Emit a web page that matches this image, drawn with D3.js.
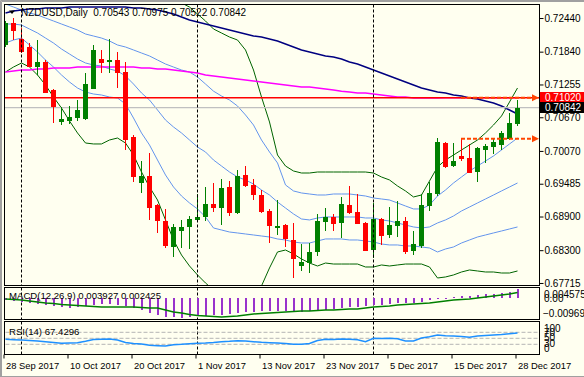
<!DOCTYPE html>
<html>
<head>
<meta charset="utf-8">
<script src="https://cdn.jsdelivr.net/npm/d3@7"></script>
<style>
  html, body { margin: 0; padding: 0; background: #fffff0; }
  svg { display: block; }
  text { font-family: "Liberation Sans", Arial, sans-serif; }
</style>
</head>
<body>
<svg id="chart" width="584" height="377"></svg>
<script>
// NZDUSD daily bars, 28 Sep - 28 Dec 2017
const dates = [
  '2017-09-28','2017-09-29',
  '2017-10-02','2017-10-03','2017-10-04','2017-10-05','2017-10-06',
  '2017-10-09','2017-10-10','2017-10-11','2017-10-12','2017-10-13',
  '2017-10-16','2017-10-17','2017-10-18','2017-10-19','2017-10-20',
  '2017-10-23','2017-10-24','2017-10-25','2017-10-26','2017-10-27',
  '2017-10-30','2017-10-31',
  '2017-11-01','2017-11-02','2017-11-03',
  '2017-11-06','2017-11-07','2017-11-08','2017-11-09','2017-11-10',
  '2017-11-13','2017-11-14','2017-11-15','2017-11-16','2017-11-17',
  '2017-11-20','2017-11-21','2017-11-22','2017-11-23','2017-11-24',
  '2017-11-27','2017-11-28','2017-11-29','2017-11-30',
  '2017-12-01',
  '2017-12-04','2017-12-05','2017-12-06','2017-12-07','2017-12-08',
  '2017-12-11','2017-12-12','2017-12-13','2017-12-14','2017-12-15',
  '2017-12-18','2017-12-19','2017-12-20','2017-12-21','2017-12-22',
  '2017-12-26','2017-12-27','2017-12-28'
];

const opens = [
  0.71959, 0.72351, 0.72066, 0.71923, 0.71566, 0.71656, 0.71156, 0.70586, 0.70604, 0.70657,
  0.70639, 0.71174, 0.71709, 0.71656, 0.71691, 0.71477, 0.70318, 0.69498, 0.69623, 0.69106,
  0.68821, 0.68357, 0.68642, 0.68714, 0.68839, 0.68892, 0.69124, 0.69052, 0.69427, 0.68964,
  0.69641, 0.69463, 0.69284, 0.68999, 0.68722, 0.68749, 0.68482, 0.68018, 0.68071, 0.68268,
  0.68803, 0.68892, 0.68785, 0.69106, 0.68981, 0.68785, 0.68303, 0.68856, 0.68571, 0.68731,
  0.68821, 0.68286, 0.68375, 0.69088, 0.69302, 0.70211, 0.69801, 0.69980, 0.69944, 0.69694,
  0.70087, 0.70140, 0.70176, 0.70283, 0.70543
];
const highs = [
  0.72387, 0.72440, 0.72262, 0.71994, 0.72048, 0.71691, 0.71174, 0.70853, 0.70871, 0.70978,
  0.71459, 0.71959, 0.71870, 0.72066, 0.71834, 0.71656, 0.70354, 0.69890, 0.70033, 0.69124,
  0.69035, 0.68767, 0.68839, 0.68910, 0.69302, 0.69427, 0.69498, 0.69569, 0.69534, 0.69730,
  0.69801, 0.69569, 0.69373, 0.69035, 0.69195, 0.68767, 0.68785, 0.68410, 0.68428, 0.68946,
  0.69052, 0.68946, 0.69249, 0.69445, 0.69302, 0.68803, 0.69142, 0.68865, 0.69070, 0.69177,
  0.68892, 0.68642, 0.69302, 0.69516, 0.70300, 0.70229, 0.70211, 0.70300, 0.70194, 0.70140,
  0.70194, 0.70300, 0.70425, 0.70746, 0.70975
];
const lows = [
  0.71923, 0.72048, 0.71816, 0.71560, 0.71424, 0.71103, 0.70568, 0.70532, 0.70550, 0.70604,
  0.70630, 0.71174, 0.71459, 0.71459, 0.71192, 0.70087, 0.69516, 0.69320, 0.68839, 0.68607,
  0.68339, 0.68178, 0.68339, 0.68321, 0.68803, 0.68821, 0.68981, 0.68749, 0.68910, 0.68946,
  0.69430, 0.69195, 0.68970, 0.68428, 0.68571, 0.68357, 0.67804, 0.67929, 0.67893, 0.68196,
  0.68642, 0.68642, 0.68517, 0.68946, 0.68760, 0.68280, 0.68161, 0.68393, 0.68517, 0.68535,
  0.68232, 0.68214, 0.68339, 0.68999, 0.69266, 0.69766, 0.69784, 0.69890, 0.69670, 0.69516,
  0.69855, 0.70015, 0.70087, 0.70265, 0.70522
];
const closes = [
  0.72351, 0.72208, 0.71834, 0.71566, 0.71656, 0.71103, 0.70853, 0.70639, 0.70675, 0.70800,
  0.71263, 0.71870, 0.71638, 0.71691, 0.71459, 0.70265, 0.69605, 0.69623, 0.69052, 0.68821,
  0.68375, 0.68714, 0.68714, 0.68856, 0.68892, 0.69124, 0.69052, 0.69409, 0.68964, 0.69623,
  0.69445, 0.69284, 0.68981, 0.68731, 0.68731, 0.68500, 0.68143, 0.68089, 0.68268, 0.68821,
  0.68892, 0.68767, 0.69124, 0.68964, 0.68767, 0.68286, 0.68856, 0.68553, 0.68749, 0.68821,
  0.68268, 0.68410, 0.69106, 0.69320, 0.70229, 0.69784, 0.69890, 0.69926, 0.69676, 0.70122,
  0.70158, 0.70229, 0.70390, 0.70568, 0.70842
];

// overlays on the price panel
const maSlow = [
  0.72529, 0.72565, 0.72583, 0.72601, 0.72601, 0.72618, 0.72618, 0.72618, 0.72636, 0.72636,
  0.72636, 0.72636, 0.72636, 0.72636, 0.72636, 0.72636, 0.72618, 0.72618, 0.72601, 0.72583,
  0.72547, 0.72511, 0.72458, 0.72405, 0.72369, 0.72333, 0.72297, 0.72262, 0.72226, 0.72190,
  0.72155, 0.72119, 0.72101, 0.72066, 0.72030, 0.71976, 0.71923, 0.71870, 0.71834, 0.71798,
  0.71763, 0.71745, 0.71709, 0.71656, 0.71620, 0.71566, 0.71513, 0.71459, 0.71406, 0.71352,
  0.71299, 0.71245, 0.71192, 0.71156, 0.71121, 0.71103, 0.71067, 0.71049, 0.71014, 0.70996,
  0.70960, 0.70925, 0.70871, 0.70800, 0.70728
];
const maLong = [
  0.71477, 0.71495, 0.71513, 0.71513, 0.71531, 0.71531, 0.71549, 0.71549, 0.71549, 0.71566,
  0.71566, 0.71566, 0.71566, 0.71566, 0.71566, 0.71566, 0.71566, 0.71549, 0.71549, 0.71531,
  0.71531, 0.71513, 0.71495, 0.71477, 0.71459, 0.71424, 0.71406, 0.71388, 0.71370, 0.71352,
  0.71335, 0.71317, 0.71299, 0.71281, 0.71263, 0.71245, 0.71228, 0.71210, 0.71210, 0.71192,
  0.71174, 0.71156, 0.71136, 0.71121, 0.71103, 0.71103, 0.71085, 0.71067, 0.71049, 0.71031,
  0.71031, 0.71014, 0.71014, 0.71014, 0.71014, 0.71020, 0.71020, 0.71020, 0.71020, 0.71020,
  0.71020, 0.71020, 0.71020, 0.71020, 0.71020
];
const bbUpper = [
  0.72690, 0.72636, 0.72583, 0.72529, 0.72494, 0.72440, 0.72387, 0.72333, 0.72280, 0.72226,
  0.72155, 0.72119, 0.72083, 0.72030, 0.71959, 0.71923, 0.71870, 0.71816, 0.71763, 0.71691,
  0.71620, 0.71566, 0.71513, 0.71477, 0.71388, 0.71263, 0.71136, 0.71049, 0.70978, 0.70871,
  0.70711, 0.70532, 0.70265, 0.70051, 0.69855, 0.69463, 0.69356, 0.69320, 0.69302, 0.69284,
  0.69284, 0.69302, 0.69302, 0.69302, 0.69284, 0.69266, 0.69231, 0.69213, 0.69195, 0.69142,
  0.69088, 0.69035, 0.69035, 0.69106, 0.69266, 0.69373, 0.69498, 0.69605, 0.69712, 0.69801,
  0.69890, 0.69980, 0.70087, 0.70194, 0.70300
];
const bbMid = [
  0.72333, 0.72333, 0.72315, 0.72244, 0.72173, 0.72083, 0.71994, 0.71887, 0.71798, 0.71709,
  0.71638, 0.71602, 0.71585, 0.71531, 0.71495, 0.71406, 0.71263, 0.71103, 0.70978, 0.70800,
  0.70621, 0.70497, 0.70390, 0.70265, 0.70140, 0.70051, 0.69908, 0.69801, 0.69694, 0.69605,
  0.69552, 0.69480, 0.69373, 0.69284, 0.69159, 0.69052, 0.68946, 0.68856, 0.68839, 0.68874,
  0.68892, 0.68892, 0.68892, 0.68892, 0.68892, 0.68874, 0.68874, 0.68839, 0.68821, 0.68785,
  0.68749, 0.68714, 0.68696, 0.68714, 0.68785, 0.68839, 0.68910, 0.68999, 0.69070, 0.69142,
  0.69213, 0.69284, 0.69356, 0.69427, 0.69498
];
const bbLower = [
  0.71994, 0.72048, 0.72083, 0.71959, 0.71834, 0.71691, 0.71566, 0.71424, 0.71299, 0.71192,
  0.71121, 0.71085, 0.71067, 0.71031, 0.71014, 0.70907, 0.70657, 0.70390, 0.70176, 0.69908,
  0.69641, 0.69427, 0.69266, 0.69142, 0.69035, 0.68892, 0.68696, 0.68660, 0.68624, 0.68607,
  0.68589, 0.68571, 0.68553, 0.68535, 0.68500, 0.68482, 0.68446, 0.68428, 0.68428, 0.68464,
  0.68500, 0.68500, 0.68500, 0.68482, 0.68482, 0.68464, 0.68446, 0.68410, 0.68393, 0.68393,
  0.68375, 0.68375, 0.68357, 0.68339, 0.68268, 0.68321, 0.68357, 0.68428, 0.68482, 0.68535,
  0.68571, 0.68607, 0.68642, 0.68678, 0.68714
];
const bbOuterUpper = [
  null, null, null, null, null, null, null, null, null, null,
  null, null, null, null, null, null, null, null, null, null,
  null, null, 0.72708, 0.72636, 0.72511, 0.72387, 0.72244, 0.72173, 0.72101, 0.72048,
  0.71870, 0.71513, 0.71031, 0.70586, 0.69997, 0.69801, 0.69712, 0.69676, 0.69676, 0.69694,
  0.69694, 0.69694, 0.69694, 0.69694, 0.69694, 0.69694, 0.69676, 0.69605, 0.69552, 0.69445,
  0.69356, 0.69249, 0.69284, 0.69534, 0.69784, 0.69908, 0.69997, 0.70087, 0.70176, 0.70265,
  0.70390, 0.70532, 0.70693, 0.70942, 0.71192
];
const bbOuterLower = [
  0.71477, 0.71566, 0.71638, 0.71566, 0.71424, 0.71245, 0.71031, 0.70835, 0.70604, 0.70390,
  0.70211, 0.70194, 0.70194, 0.70265, 0.70300, 0.70211, 0.69997, 0.69694, 0.69427, 0.69195,
  0.68839, 0.68482, 0.68214, 0.68018, 0.67858, 0.67715, 0.67590, 0.67483, 0.67412, 0.67323,
  0.67412, 0.67519, 0.67662, 0.67983, 0.68268, 0.68303, 0.68232, 0.68143, 0.68071, 0.68018,
  0.68071, 0.68053, 0.68053, 0.68053, 0.68053, 0.68000, 0.68000, 0.68036, 0.68018, 0.68036,
  0.68053, 0.68053, 0.68053, 0.68000, 0.67804, 0.67822, 0.67858, 0.67911, 0.67947, 0.67929,
  0.67911, 0.67911, 0.67893, 0.67893, 0.67929
];

const resistanceLevel = 0.71020;
const bidLevel = 0.70842;
const rayLevels = [0.71020, 0.70285];
const rayStart = '2017-12-18';
const separators = ['2017-10-02', '2017-11-01', '2017-12-01'];

// MACD(12,26,9)
const macdMain = [
  -0.00114, -0.00162, -0.00209, -0.00257, -0.00304, -0.00352, -0.00400, -0.00447, -0.00495, -0.00447,
  -0.00400, -0.00352, -0.00304, -0.00304, -0.00352, -0.00400, -0.00495, -0.00590, -0.00732, -0.00828,
  -0.00923, -0.00923, -0.009693, -0.00923, -0.00875, -0.00851, -0.00828, -0.00804, -0.00780, -0.00732,
  -0.00685, -0.00661, -0.00637, -0.00614, -0.00614, -0.00637, -0.00685, -0.00685, -0.00637, -0.00637,
  -0.00590, -0.00542, -0.00495, -0.00447, -0.00447, -0.00400, -0.00352, -0.00352, -0.00304, -0.00257,
  -0.00257, -0.00257, -0.00209, -0.00114, -0.00019, 0.00005, 0.00052, 0.00076, 0.00100, 0.00124,
  0.00171, 0.00195, 0.00219, 0.00266, 0.003927
];
const macdSignal = [
  -0.00067, -0.00090, -0.00114, -0.00162, -0.00209, -0.00257, -0.00281, -0.00328, -0.00352, -0.00376,
  -0.00400, -0.00423, -0.00447, -0.00447, -0.00447, -0.00447, -0.00447, -0.00471, -0.00495, -0.00495,
  -0.00590, -0.00685, -0.00732, -0.00804, -0.00851, -0.00875, -0.00899, -0.00923, -0.00899, -0.00875,
  -0.00828, -0.00780, -0.00756, -0.00732, -0.00709, -0.00685, -0.00661, -0.00637, -0.00637, -0.00614,
  -0.00590, -0.00590, -0.00566, -0.00542, -0.00542, -0.00495, -0.00447, -0.00423, -0.00400, -0.00352,
  -0.00328, -0.00304, -0.00281, -0.00257, -0.00209, -0.00162, -0.00114, -0.00090, -0.00067, -0.00019,
  0.00029, 0.00076, 0.00124, 0.00171, 0.002425
];
const macdRange = [-0.009693, 0.004575];

// RSI(14)
const rsi = [
  46.7, 45.3, 44.3, 42.7, 41, 38.7, 36, 33.3, 34.3, 35.3,
  40, 46, 46.7, 47.7, 44.3, 36, 32.7, 31, 26.7, 25.3,
  24.3, 28.7, 30, 32, 33.3, 34.3, 36, 38.7, 40, 42,
  41, 38.7, 36.7, 35.3, 34.3, 32.7, 30, 30, 32.7, 42.7,
  46.7, 46, 47.7, 46.7, 45.3, 38.7, 50, 49.3, 50, 48.7,
  41, 41, 51, 55.3, 61, 58.7, 57.7, 56, 53.3, 57.7,
  59.3, 61, 62.7, 65.3, 67.4296
];
const rsiLevels = [70, 50, 30];

const priceTicks = [0.72440, 0.71840, 0.71255, 0.70670, 0.70070, 0.69485, 0.68900, 0.68300, 0.67715];
const dateTicks = ['2017-09-28','2017-10-10','2017-10-20','2017-11-01','2017-11-13','2017-11-23','2017-12-05','2017-12-15','2017-12-28'];
const dateTickLabels = ['28 Sep 2017','10 Oct 2017','20 Oct 2017','1 Nov 2017','13 Nov 2017','23 Nov 2017','5 Dec 2017','15 Dec 2017','28 Dec 2017'];

const title = 'NZDUSD,Daily  0.70543 0.70975 0.70522 0.70842';
const macdTitle = 'MACD(12,26,9) 0.003927 0.002425';
const rsiTitle = 'RSI(14) 67.4296';

// ---------------------------------------------------------------
const svg = d3.select('#chart');
const left = 4.5, right = 539.5;
const main = { top: 4.5, bottom: 285.5 };
const macdP = { top: 287.5, bottom: 319.5 };
const rsiP = { top: 321.5, bottom: 354.5 };

const x = d3.scalePoint().domain(dates).range([5, 517]);
const y = d3.scaleLinear().domain([0.67679, 0.72690]).range([285, 4]);
const yM = d3.scaleLinear().domain(macdRange).range([318, 288]);
const yR = d3.scaleLinear().domain([0, 100]).range([353.3, 323.3]);

const bars = dates.map((d, i) => ({ date: d, o: opens[i], h: highs[i], l: lows[i], c: closes[i] }));

// window frame
svg.append('rect').attr('width', 584).attr('height', 377).attr('fill', '#fffff0');
svg.append('path')
  .attr('d', 'M0.5,377V0.5H584M1.5,377V1.5H584M0,376.5H584')
  .attr('fill', 'none').attr('stroke', '#a0a0a0').attr('stroke-width', 1);

svg.append('defs').append('clipPath').attr('id', 'clipMain')
  .append('rect').attr('x', 5).attr('y', 5).attr('width', 534).attr('height', 280);

const gMain = svg.append('g').attr('clip-path', 'url(#clipMain)');

// month separators
[[main.top, main.bottom], [macdP.top, macdP.bottom], [rsiP.top, rsiP.bottom]].forEach(([t, b]) => {
  svg.append('g').selectAll('line').data(separators).join('line')
    .attr('x1', d => x(d) + 0.5).attr('x2', d => x(d) + 0.5)
    .attr('y1', t).attr('y2', b)
    .attr('stroke', '#000').attr('stroke-width', 1).attr('stroke-dasharray', '3,2');
});

const line = (arr, yy) => d3.line()
  .defined(d => d != null)
  .x((d, i) => x(dates[i]) + 0.5)
  .y(d => yy(d))(arr);

// bands
gMain.append('path').attr('d', line(bbOuterUpper, y)).attr('fill', 'none').attr('stroke', '#006400').attr('stroke-width', 1);
gMain.append('path').attr('d', line(bbOuterLower, y)).attr('fill', 'none').attr('stroke', '#006400').attr('stroke-width', 1);
[bbUpper, bbMid, bbLower].forEach(arr => {
  gMain.append('path').attr('d', line(arr, y)).attr('fill', 'none').attr('stroke', '#6495ed').attr('stroke-width', 1);
});

// moving averages
gMain.append('path').attr('d', line(maLong, y)).attr('fill', 'none').attr('stroke', '#ff00ff').attr('stroke-width', 1.5);
gMain.append('path').attr('d', line(maSlow, y)).attr('fill', 'none').attr('stroke', '#000080').attr('stroke-width', 1.5);

// horizontal levels
gMain.append('line').attr('x1', left).attr('x2', right)
  .attr('y1', y(bidLevel)).attr('y2', y(bidLevel))
  .attr('stroke', '#c0c0c0').attr('stroke-width', 1.2);
gMain.append('line').attr('x1', left).attr('x2', right)
  .attr('y1', y(resistanceLevel)).attr('y2', y(resistanceLevel))
  .attr('stroke', '#ff0000').attr('stroke-width', 1.5);

// candles
const cg = gMain.append('g').attr('shape-rendering', 'crispEdges');
cg.selectAll('line.wick').data(bars).join('line')
  .attr('class', 'wick')
  .attr('x1', d => x(d.date) + 0.5).attr('x2', d => x(d.date) + 0.5)
  .attr('y1', d => y(d.h)).attr('y2', d => y(d.l))
  .attr('stroke', d => d.c >= d.o ? '#008000' : '#ff0000');
cg.selectAll('rect.body').data(bars).join('rect')
  .attr('class', 'body')
  .attr('x', d => x(d.date) - 2)
  .attr('width', 5)
  .attr('y', d => y(Math.max(d.o, d.c)))
  .attr('height', d => Math.max(1.5, Math.abs(y(d.o) - y(d.c))))
  .attr('fill', d => d.c >= d.o ? '#008000' : '#ff0000');

// dashed rays with arrow heads
rayLevels.forEach(lv => {
  const yy = y(lv);
  svg.append('line').attr('x1', x(rayStart)).attr('x2', 533)
    .attr('y1', yy).attr('y2', yy)
    .attr('stroke', '#ff4500').attr('stroke-width', 2).attr('stroke-dasharray', '4,2');
  svg.append('path').attr('d', `M532,${yy - 3.5}L539,${yy}L532,${yy + 3.5}Z`).attr('fill', '#ff4500');
});

// panel frames
[main, macdP, rsiP].forEach(p => {
  svg.append('rect').attr('x', left).attr('y', p.top)
    .attr('width', right - left).attr('height', p.bottom - p.top)
    .attr('fill', 'none').attr('stroke', '#000').attr('stroke-width', 1);
});

// price axis
const ax = svg.append('g').attr('transform', `translate(${right},0)`)
  .call(d3.axisRight(y).tickValues(priceTicks).tickFormat(d3.format('.5f')).tickSize(4).tickPadding(1));
ax.select('.domain').remove();
ax.selectAll('text').attr('font-size', '10px').attr('font-family', '"Liberation Sans", Arial, sans-serif').attr('fill', '#000');
ax.selectAll('line').attr('stroke', '#000');

// price tags
const tag = (lv, fill) => {
  const yy = y(lv);
  svg.append('rect').attr('x', 540).attr('y', Math.round(yy) - 6).attr('width', 44).attr('height', 11).attr('fill', fill);
  svg.append('text').attr('x', 545).attr('y', yy).attr('dy', '0.34em')
    .attr('font-size', '10px').attr('fill', '#fff').text(d3.format('.5f')(lv));
};
tag(resistanceLevel, '#ff0000');
tag(bidLevel, '#000');

// title
svg.append('path').attr('d', 'M9,10.5H15L12,14Z').attr('fill', '#000');
svg.append('text').attr('x', 21).attr('y', 12.5).attr('dy', '0.35em')
  .attr('font-size', '10px').style('white-space', 'pre').attr('fill', '#000').text(title);

// MACD panel: histogram drawn as thin rects from the zero line
const mg = svg.append('g').attr('shape-rendering', 'crispEdges');
mg.selectAll('rect').data(macdMain).join('rect')
  .attr('x', (d, i) => x(dates[i]))
  .attr('width', 1.6)
  .attr('y', d => Math.min(yM(0), yM(d)))
  .attr('height', d => Math.max(1, Math.abs(yM(d) - yM(0))))
  .attr('fill', '#9932cc');
svg.append('path').attr('d', line(macdSignal, yM)).attr('fill', 'none').attr('stroke', '#008000').attr('stroke-width', 1.5);
svg.append('text').attr('x', 9).attr('y', 296).attr('dy', '0.35em').attr('font-size', '9.6px').text(macdTitle);
[[macdRange[1], 294], [0, 298.7], [macdRange[0], 313.3]].forEach(([v, yy]) => {
  svg.append('text').attr('x', v < 0 ? 543 : 544).attr('y', yy).attr('dy', '0.35em').attr('font-size', '10px')
    .text(v === 0 ? '0.00' : d3.format('.6f')(v));
});

// RSI panel
svg.append('g').selectAll('line').data(rsiLevels).join('line')
  .attr('x1', left + 1).attr('x2', right - 1)
  .attr('y1', d => yR(d)).attr('y2', d => yR(d))
  .attr('stroke', '#b4b4b4').attr('stroke-width', 1).attr('stroke-dasharray', '4,2');
svg.append('path').attr('d', line(rsi, yR)).attr('fill', 'none').attr('stroke', '#1e90ff').attr('stroke-width', 1.5);
svg.append('text').attr('x', 9).attr('y', 331.5).attr('dy', '0.35em').attr('font-size', '9.6px').text(rsiTitle);
[['100', 328.7], ['70', 332], ['50', 337.5], ['30', 343.7], ['0', 348.7]].forEach(([t, yy]) => {
  svg.append('text').attr('x', 544).attr('y', yy).attr('dy', '0.35em').attr('font-size', '10px').text(t);
});

// date axis
const xa = svg.append('g').attr('transform', `translate(-1.5,${rsiP.bottom})`)
  .call(d3.axisBottom(x).tickValues(dateTicks)
    .tickFormat((d, i) => dateTickLabels[i]).tickSize(4).tickPadding(2));
xa.select('.domain').remove();
xa.selectAll('line').attr('stroke', '#000');
xa.selectAll('text').attr('text-anchor', 'start').attr('x', 2).attr('dy', '0.9em')
  .attr('font-size', '9.4px').attr('font-family', '"Liberation Sans", Arial, sans-serif').attr('fill', '#000');
</script>
</body>
</html>
